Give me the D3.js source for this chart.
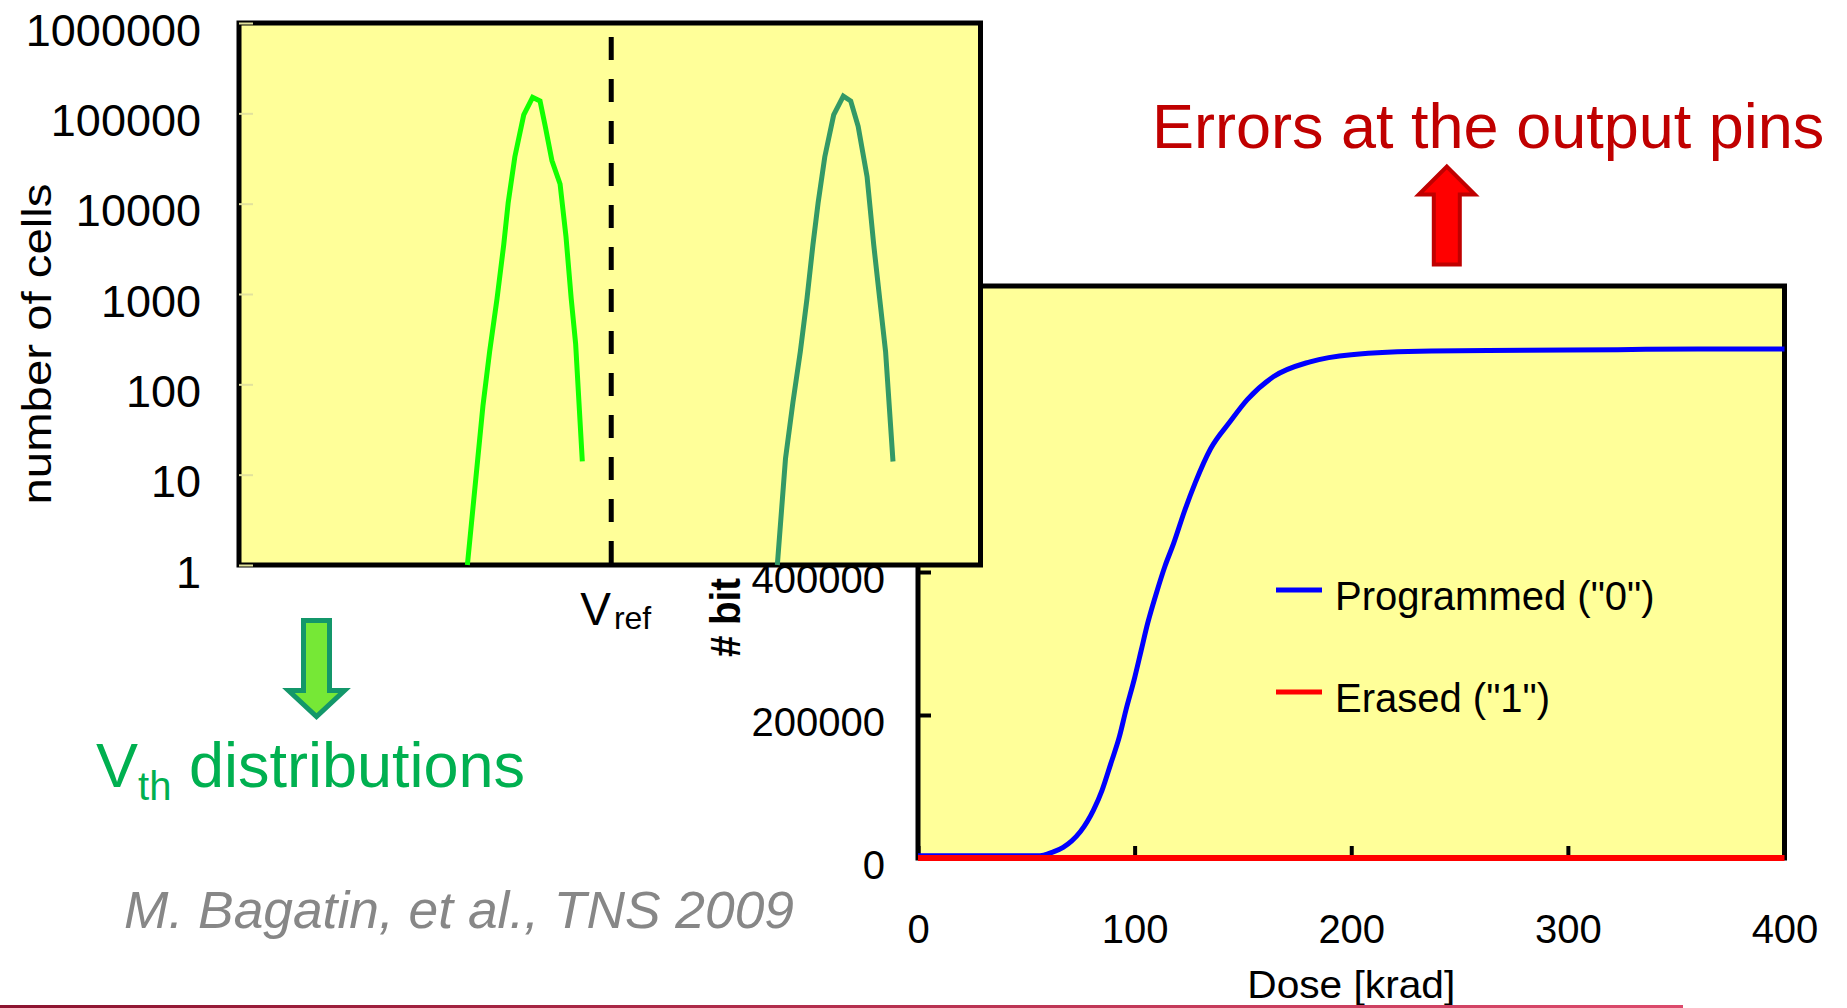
<!DOCTYPE html>
<html>
<head>
<meta charset="utf-8">
<script src="https://d3js.org/d3.v7.min.js"></script>
<style>
  body { margin: 0; background: #fff; }
  svg { display: block; font-family: "Liberation Sans", Arial, sans-serif; }
</style>
</head>
<body>
<svg id="chart" width="1847" height="1008"></svg>
<script>
//left plot: Vth distributions (arbitrary voltage units, log count)
var cellTicks = [1, 10, 100, 1000, 10000, 100000, 1000000];
var vref = 5.02;
var vrefTop = 700000;
var erasedVth = [3.08, 3.22, 3.29, 3.38, 3.48, 3.57, 3.63, 3.72, 3.84, 3.96, 4.06, 4.13, 4.22, 4.33, 4.41, 4.48, 4.54, 4.63];
var erasedCells = [1, 15, 58, 230, 890, 3500, 10200, 33000, 96000, 150000, 137000, 72000, 30000, 16500, 4300, 890, 280, 14];
var progVth = [7.26, 7.37, 7.47, 7.57, 7.66, 7.74, 7.81, 7.90, 8.02, 8.15, 8.25, 8.35, 8.47, 8.56, 8.64, 8.72, 8.82];
var progCells = [1, 15, 63, 230, 890, 3500, 10200, 33000, 96000, 155000, 137000, 72000, 20000, 3500, 890, 230, 14];

//right plot: bit errors vs dose
var doseTicks = [0, 100, 200, 300, 400];
var bitTicks = [0, 200000, 400000];
var programmedDose = [0, 20, 40, 55, 58, 62, 67, 71, 75, 81, 85, 89, 93, 96, 100, 103, 106, 110, 114, 118, 123, 128, 135, 144, 152, 164, 181, 200, 237, 280, 323, 360, 400];
var programmedBits = [3000, 3000, 3000, 3000, 4000, 8000, 15000, 24000, 37000, 67000, 95000, 132000, 170000, 207000, 252000, 290000, 328000, 370000, 408000, 440000, 485000, 525000, 572000, 610000, 641000, 673000, 694000, 704000, 709000, 710000, 711000, 712000, 712000];
var erasedDose = [0, 100, 200, 300, 400];
var erasedBits = [0, 0, 0, 0, 0];
var legendNames = ['Programmed ("0")', 'Erased ("1")'];
var legendColors = ["#0000ff", "#ff0000"];

var svg = d3.select("#chart");
var yellow = "#ffff99";

//gradient for the slide footer rule
var grad = svg.append("defs").append("linearGradient").attr("id", "rule");
grad.append("stop").attr("offset", "0%").attr("stop-color", "#8c1430");
grad.append("stop").attr("offset", "100%").attr("stop-color", "#dc4a6c");

// ---------- right chart (drawn first, the left one overlaps it) ----------
var x2 = d3.scaleLinear().domain([0, 400]).range([918, 1784.5]);
var y2 = d3.scaleLinear().domain([0, 800000]).range([858, 286]);

svg.append("rect")
   .attr("x", x2(0)).attr("y", y2(800000))
   .attr("width", x2(400) - x2(0)).attr("height", y2(0) - y2(800000))
   .style("fill", yellow).style("stroke", "#000").style("stroke-width", 5);

var xAx = svg.append("g")
   .attr("transform", "translate(0," + y2(0) + ")")
   .call(d3.axisBottom(x2).tickValues(doseTicks).tickSizeInner(-12).tickSizeOuter(0).tickPadding(57).tickFormat(d3.format("d")));
xAx.select(".domain").remove();
xAx.selectAll("line").style("stroke", "#000").style("stroke-width", 4);
xAx.selectAll("text").style("font-size", "40px").style("fill", "#000")
   .style("font-family", "'Liberation Sans', Arial, sans-serif");

var yAx = svg.append("g")
   .attr("transform", "translate(" + x2(0) + ",0)")
   .call(d3.axisLeft(y2).tickValues(bitTicks).tickSizeInner(-13).tickSizeOuter(0).tickPadding(33).tickFormat(d3.format("d")));
yAx.select(".domain").remove();
yAx.selectAll("line").style("stroke", "#000").style("stroke-width", 4);
yAx.selectAll("text").attr("dy", "0.5em").style("font-size", "40px").style("fill", "#000")
   .style("font-family", "'Liberation Sans', Arial, sans-serif");

//axis titles
svg.append("text")
   .attr("x", (x2(0) + x2(400)) / 2).attr("y", 998)
   .attr("text-anchor", "middle")
   .attr("textLength", 208).attr("lengthAdjust", "spacingAndGlyphs")
   .style("font-size", "39px")
   .text("Dose [krad]");
svg.append("text")
   .attr("transform", "translate(740,657) rotate(-90)")
   .attr("textLength", 79).attr("lengthAdjust", "spacingAndGlyphs")
   .style("font-size", "42px").style("font-weight", "bold")
   .text("# bit");

var line2 = d3.line()
   .x(function(d){ return x2(d[0]); })
   .y(function(d){ return y2(d[1]); })
   .curve(d3.curveMonotoneX);

svg.append("path")
   .attr("d", line2(d3.zip(programmedDose, programmedBits)))
   .style("fill", "none").style("stroke", legendColors[0]).style("stroke-width", 5);
svg.append("path")
   .attr("d", line2(d3.zip(erasedDose, erasedBits)))
   .style("fill", "none").style("stroke", legendColors[1]).style("stroke-width", 6);

//legend
var legend = svg.append("g").selectAll("g")
   .data(legendNames)
   .enter().append("g")
   .attr("transform", function(d, i){ return "translate(1276," + (590 + i * 102) + ")"; });
legend.append("line")
   .attr("x1", 0).attr("x2", 46)
   .style("stroke", function(d, i){ return legendColors[i]; })
   .style("stroke-width", 5);
legend.append("text")
   .attr("x", 59).attr("y", 20)
   .style("font-size", "40px")
   .text(function(d){ return d; });

// ---------- left chart ----------
var x1 = d3.scaleLinear().domain([0, 10]).range([239, 980.5]);
var y1 = d3.scaleLog().domain([1, 1000000]).range([565, 23]);

svg.append("rect")
   .attr("x", x1(0)).attr("y", y1(1000000))
   .attr("width", x1(10) - x1(0)).attr("height", y1(1) - y1(1000000))
   .style("fill", yellow).style("stroke", "#000").style("stroke-width", 5);

var lAx = svg.append("g")
   .attr("transform", "translate(" + x1(0) + ",0)")
   .call(d3.axisLeft(y1).tickValues(cellTicks).tickSizeInner(-14).tickSizeOuter(0).tickPadding(38).tickFormat(d3.format("d")));
lAx.select(".domain").remove();
//faint inner tick marks
lAx.selectAll("line").style("stroke", "#e2e29c").style("stroke-width", 2);
lAx.selectAll("text").attr("dy", "0.49em").style("font-size", "45px").style("fill", "#000")
   .style("font-family", "'Liberation Sans', Arial, sans-serif");

svg.append("text")
   .attr("transform", "translate(51,344) rotate(-90)")
   .attr("text-anchor", "middle")
   .attr("textLength", 321).attr("lengthAdjust", "spacingAndGlyphs")
   .style("font-size", "40px")
   .text("number of cells");

var line1 = d3.line()
   .x(function(d){ return x1(d[0]); })
   .y(function(d){ return y1(d[1]); });

//Vref dashed marker
svg.append("path")
   .attr("d", line1([[vref, vrefTop], [vref, 1]]))
   .style("stroke", "#000").style("stroke-width", 5).style("stroke-dasharray", "23,19");

svg.append("path")
   .attr("d", line1(d3.zip(erasedVth, erasedCells)))
   .style("fill", "none").style("stroke", "#11ff00").style("stroke-width", 5);
svg.append("path")
   .attr("d", line1(d3.zip(progVth, progCells)))
   .style("fill", "none").style("stroke", "#339966").style("stroke-width", 5);

var vr = svg.append("text")
   .attr("x", x1(vref) - 31).attr("y", 625)
   .style("font-size", "46px");
vr.append("tspan").text("V");
vr.append("tspan").attr("dx", 3).attr("dy", 4).style("font-size", "32px").text("ref");

// ---------- annotations ----------
//block arrow: centre x, tail y, tip y
function arrow(cx, tail, tip, bodyW, headW, headH){
	var s = tip > tail ? 1 : -1;
	var base = tip - s * headH;
	return "M" + (cx - bodyW / 2) + "," + tail +
	       "L" + (cx + bodyW / 2) + "," + tail +
	       "L" + (cx + bodyW / 2) + "," + base +
	       "L" + (cx + headW / 2) + "," + base +
	       "L" + cx + "," + tip +
	       "L" + (cx - headW / 2) + "," + base +
	       "L" + (cx - bodyW / 2) + "," + base + "Z";
}

svg.append("path")
   .attr("d", arrow(316.5, 620.5, 716.5, 26, 56, 26))
   .style("fill", "#76e836").style("stroke", "#13976a").style("stroke-width", 5)
   .style("stroke-linejoin", "miter");

svg.append("path")
   .attr("d", arrow(1446.8, 264.5, 166.5, 26, 56, 28))
   .style("fill", "#ff0000").style("stroke", "#c00000").style("stroke-width", 4);

var vth = svg.append("text")
   .attr("x", 96).attr("y", 787)
   .style("font-size", "63px").style("fill", "#00b050");
vth.append("tspan").text("V");
vth.append("tspan").attr("dy", 13).style("font-size", "40px").text("th");
vth.append("tspan").attr("dy", -13).text(" distributions");

svg.append("text")
   .attr("x", 1152).attr("y", 148)
   .style("font-size", "63px").style("fill", "#c00000")
   .text("Errors at the output pins");

svg.append("text")
   .attr("x", 124).attr("y", 928)
   .attr("textLength", 670).attr("lengthAdjust", "spacingAndGlyphs")
   .style("font-size", "51px").style("font-style", "italic").style("fill", "#878787")
   .text("M. Bagatin, et al., TNS 2009");

//footer rule
svg.append("rect")
   .attr("x", 0).attr("y", 1005).attr("width", 1683).attr("height", 3)
   .style("fill", "url(#rule)");
</script>
</body>
</html>
